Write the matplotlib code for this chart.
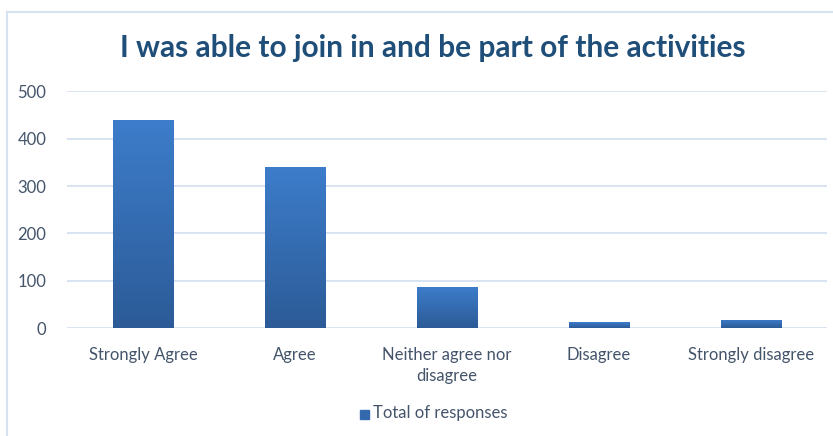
import numpy as np
import matplotlib
matplotlib.use("Agg")
import matplotlib.pyplot as plt
from matplotlib.colors import LinearSegmentedColormap
from matplotlib.patches import Rectangle
from matplotlib.lines import Line2D

categories = ["Strongly Agree", "Agree", "Neither agree nor\ndisagree", "Disagree", "Strongly disagree"]
responses = [440, 341, 87, 12, 17]
yticks = [0, 100, 200, 300, 400, 500]

plt.rcParams["font.family"] = ["Lato", "DejaVu Sans"]

fig = plt.figure(figsize=(8.33, 4.36), dpi=100)
ax = fig.add_axes([67 / 833, 108 / 436, 760 / 833, 236.5 / 436])

# frame around the chart area
fig.add_artist(Line2D([7 / 833, 7 / 833], [0, 1 - 12 / 436], color="#D5E2F0", lw=1.5))
fig.add_artist(Line2D([7 / 833, 1], [1 - 12 / 436, 1 - 12 / 436], color="#D5E2F0", lw=1.5))

cmap = LinearSegmentedColormap.from_list("bar", ["#2C5B97", "#3D7DCB"])
grad = np.linspace(0, 1, 256).reshape(-1, 1)
width = 0.4
x = np.arange(len(categories))
bars = ax.bar(x, responses, width=width, color="none", edgecolor="#A9BCD6", linewidth=0.6, zorder=2)
for b in bars:
    x0, y0 = b.get_x(), b.get_y()
    im = ax.imshow(grad, extent=[x0, x0 + b.get_width(), y0, y0 + b.get_height()],
                   origin="lower", aspect="auto", cmap=cmap, zorder=2)
    im.set_clip_path(b)

ax.set_xlim(-0.5, len(categories) - 0.5)
ax.set_ylim(0, 500)
ax.set_yticks(yticks)
ax.set_xticks(x)
ax.set_xticklabels(categories, linespacing=1.35)
ax.grid(axis="y", color="#D6E1F1", lw=1.3, zorder=0)
ax.set_axisbelow(True)
for s in ax.spines.values():
    s.set_visible(False)
ax.tick_params(axis="both", length=0, labelsize=12, colors="#44546A")
ax.tick_params(axis="y", pad=15)
ax.tick_params(axis="x", pad=14)

fig.text(433 / 833, 1 - 48 / 436, "I was able to join in and be part of the activities",
         ha="center", va="center", fontsize=21.5, fontweight="bold", color="#1F4E79")

# legend
fig.add_artist(Rectangle((360 / 833, 1 - 419 / 436), 9 / 833, 9 / 436, color="#3569AE"))
fig.text(373 / 833, 1 - 413 / 436, "Total of responses", ha="left", va="center",
         fontsize=12, color="#44546A")

fig.savefig("out.png", dpi=100)
